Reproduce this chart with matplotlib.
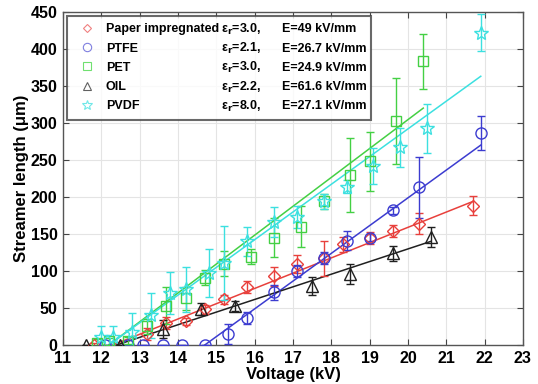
import numpy as np
import matplotlib
matplotlib.use("Agg")
import matplotlib.pyplot as plt
from matplotlib.lines import Line2D

plt.rcParams['font.family'] = ['Liberation Sans', 'DejaVu Sans']
plt.rcParams['font.weight'] = 'bold'

# Paper impregnated
paper_v = [11.8, 13.2, 13.7, 14.2, 14.7, 15.2, 15.8, 16.5, 17.1, 17.8, 18.3, 19.0, 19.6, 20.3, 21.7]
paper_l = [0, 15, 30, 32, 48, 62, 78, 93, 109, 117, 136, 145, 154, 164, 188]
paper_e = [3, 8, 8, 5, 6, 6, 8, 13, 12, 24, 10, 8, 8, 14, 13]
paper_fit_v = [12.3, 21.7]
paper_fit_l = [0, 194]

# PTFE
ptfe_v = [12.1, 12.7, 13.1, 13.6, 14.1, 14.7, 15.3, 15.8, 16.5, 17.1, 17.8, 18.4, 19.0, 19.6, 20.3, 21.9]
ptfe_l = [0, 0, 0, 0, 0, 0, 15, 37, 71, 100, 118, 141, 145, 182, 213, 286]
ptfe_e = [0, 0, 0, 0, 0, 0, 14, 8, 10, 8, 8, 13, 5, 5, 41, 23]
ptfe_fit_v = [14.7, 21.9]
ptfe_fit_l = [0, 270]

# PET
pet_v = [11.9, 12.2, 12.7, 13.2, 13.7, 14.2, 14.7, 15.2, 15.9, 16.5, 17.2, 17.8, 18.5, 19.0, 19.7, 20.4]
pet_l = [3, 5, 6, 25, 53, 63, 91, 110, 119, 145, 160, 194, 230, 248, 303, 383]
pet_e = [5, 5, 5, 10, 25, 16, 10, 17, 10, 26, 28, 10, 50, 40, 58, 37]
pet_fit_v = [12.2, 20.4]
pet_fit_l = [0, 320]

# OIL
oil_v = [11.6, 12.5, 13.6, 14.6, 15.5, 17.5, 18.5, 19.6, 20.6]
oil_l = [0, 0, 22, 49, 53, 80, 96, 124, 146]
oil_e = [0, 0, 12, 8, 7, 12, 14, 10, 14]
oil_fit_v = [12.4, 20.6]
oil_fit_l = [0, 140]

# PVDF
pvdf_v = [12.0, 12.3, 12.8, 13.3, 13.8, 14.2, 14.8, 15.2, 15.8, 16.5, 17.1, 17.8, 18.4, 19.1, 19.8, 20.5, 21.9]
pvdf_l = [11, 11, 18, 40, 70, 75, 97, 111, 140, 166, 173, 194, 214, 242, 267, 293, 422]
pvdf_e = [15, 15, 25, 30, 28, 30, 32, 50, 20, 20, 15, 10, 9, 24, 26, 33, 25]
pvdf_fit_v = [12.2, 21.9]
pvdf_fit_l = [0, 363]

names = ['Paper impregnated', 'PTFE', 'PET', 'OIL', 'PVDF']
eps_labels = ['3.0', '2.1', '3.0', '2.2', '8.0']
field_labels = ['E=49 kV/mm', 'E=26.7 kV/mm', 'E=24.9 kV/mm', 'E=61.6 kV/mm', 'E=27.1 kV/mm']

series = [
    (paper_v, paper_l, paper_e, paper_fit_v, paper_fit_l, '#e8403c', 'D', 6),
    (ptfe_v, ptfe_l, ptfe_e, ptfe_fit_v, ptfe_fit_l, '#3c3cd0', 'o', 8),
    (pet_v, pet_l, pet_e, pet_fit_v, pet_fit_l, '#44d044', 's', 7),
    (oil_v, oil_l, oil_e, oil_fit_v, oil_fit_l, '#202020', '^', 8),
    (pvdf_v, pvdf_l, pvdf_e, pvdf_fit_v, pvdf_fit_l, '#3ce0e0', '*', 10),
]
legend_colors = ['#f08080', '#8080e0', '#70e070', '#606060', '#70e8e8']

fig = plt.figure(figsize=(5.38, 3.84), dpi=100)
ax = fig.add_axes([0.117, 0.1016, 0.855, 0.8675])

handles = []
for (v, l, e, fv, fl, col, mk, ms), lc in zip(series, legend_colors):
    ax.errorbar(v, l, yerr=e, fmt=mk, color=col, mfc='none', mec=col, ms=ms,
                mew=1.0, elinewidth=1.0, capsize=3, capthick=1.0, zorder=3)
    ax.plot(fv, fl, '-', color=col, lw=1.1, zorder=2)
    handles.append(Line2D([], [], ls='none', marker=mk, color=lc, mfc='none',
                          ms=ms * 0.75, mew=0.8))

ax.set_xlim(11, 23)
ax.set_ylim(0, 450)
ax.set_xticks(np.arange(11, 24, 1))
ax.set_yticks(np.arange(0, 451, 50))
ax.grid(True, color='#e4e4e4', lw=0.8)
ax.set_axisbelow(True)
ax.tick_params(direction='in', top=True, right=True, labelsize=11.5, length=4,
               color='#444444')
ax.tick_params(axis='x', pad=4)
ax.tick_params(axis='y', pad=4)
for lab in ax.get_xticklabels() + ax.get_yticklabels():
    lab.set_fontweight('bold')
for sp in ax.spines.values():
    sp.set_color('#555555')
    sp.set_linewidth(1.0)

ax.set_xlabel('Voltage (kV)', fontsize=12, fontweight='bold', labelpad=1)
ax.set_ylabel('Streamer length (\u03bcm)', fontsize=12, fontweight='bold', labelpad=1)

leg = ax.legend(handles, names, loc='upper left', mode='expand',
                bbox_to_anchor=(0.009, 0.0, 0.66, 0.988),
                fontsize=9, frameon=True, fancybox=False, borderpad=0.6,
                labelspacing=0.58, handletextpad=0.5, borderaxespad=0.0)
leg.get_frame().set_edgecolor('#444444')
leg.get_frame().set_linewidth(1.5)
leg.set_zorder(5)
for t in leg.get_texts():
    t.set_fontweight('bold')

fig.canvas.draw()
renderer = fig.canvas.get_renderer()
inv = ax.transAxes.inverted()
for i, t in enumerate(leg.get_texts()):
    bb = t.get_window_extent(renderer)
    _, y_ax = inv.transform((0, (bb.y0 + bb.y1) / 2))
    ax.text(0.43, y_ax, '\u03b5$_\\mathbf{r}$=' + eps_labels[i] + ',',
            transform=ax.transAxes, ha='right', va='center', fontsize=9,
            fontweight='bold', zorder=6)
    ax.text(0.477, y_ax, field_labels[i], transform=ax.transAxes,
            ha='left', va='center', fontsize=9, fontweight='bold', zorder=6)

fig.savefig('out.png', dpi=100)
